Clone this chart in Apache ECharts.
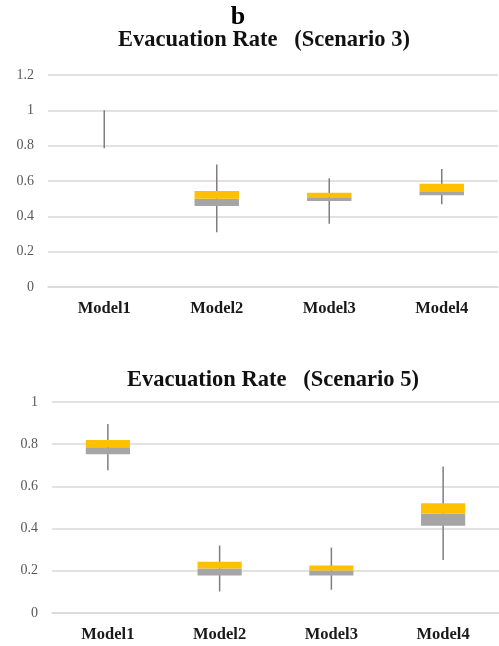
<!DOCTYPE html>
<html>
<head>
<meta charset="utf-8">
<script src="https://cdn.jsdelivr.net/npm/echarts@6/dist/echarts.min.js"></script>
<style>
html,body{margin:0;padding:0;background:#fff;}
#chart{width:499px;height:646px;}
</style>
</head>
<body>
<div id="chart"></div>
<script>
var categories = ['Model1', 'Model2', 'Model3', 'Model4'];
var yTicksS3 = [0, 0.2, 0.4, 0.6, 0.8, 1, 1.2];
var yTicksS5 = [0, 0.2, 0.4, 0.6, 0.8, 1];

// Scenario 3
var s3Min    = [0.785, 0.310, 0.358, 0.468];
var s3Q1     = [1.000, 0.458, 0.487, 0.519];
var s3Median = [1.000, 0.500, 0.508, 0.538];
var s3Q3     = [1.000, 0.543, 0.534, 0.585];
var s3Max    = [1.000, 0.694, 0.615, 0.668];

// Scenario 5
var s5Min    = [0.677, 0.102, 0.110, 0.251];
var s5Q1     = [0.752, 0.178, 0.178, 0.413];
var s5Median = [0.786, 0.211, 0.202, 0.471];
var s5Q3     = [0.820, 0.243, 0.225, 0.520];
var s5Max    = [0.896, 0.320, 0.310, 0.694];

function build(mn, q1, md, q3, mx) {
  return categories.map(function (c, i) { return [i, mn[i], q1[i], md[i], q3[i], mx[i]]; });
}

var GRAY = '#A5A5A5', ORANGE = '#FFC000', WHISKER = '#7F7F7F';

function renderBox(params, api) {
  var i = api.value(0);
  var pMin = api.coord([i, api.value(1)]);
  var pQ1 = api.coord([i, api.value(2)]);
  var pMd = api.coord([i, api.value(3)]);
  var pQ3 = api.coord([i, api.value(4)]);
  var pMax = api.coord([i, api.value(5)]);
  var bw = api.size([1, 0])[0] * 0.395;
  var x = pMd[0];
  return {
    type: 'group',
    children: [
      { type: 'line', shape: { x1: x, y1: pMax[1], x2: x, y2: pMin[1] },
        style: { stroke: WHISKER, lineWidth: 1.5 } },
      { type: 'rect', shape: { x: x - bw / 2, y: pMd[1], width: bw, height: pQ1[1] - pMd[1] },
        style: { fill: GRAY } },
      { type: 'rect', shape: { x: x - bw / 2, y: pQ3[1], width: bw, height: pMd[1] - pQ3[1] },
        style: { fill: ORANGE } }
    ]
  };
}

var serif = '"Liberation Serif", "DejaVu Serif", serif';

function xAxisCfg(gi) {
  return {
    type: 'category', gridIndex: gi, data: categories,
    axisLine: { show: true, lineStyle: { color: '#D9D9D9', width: 1.5 } },
    axisTick: { show: false },
    axisLabel: { fontFamily: serif, fontWeight: 'bold', fontSize: 16.5, color: '#1a1a1a', margin: 13 }
  };
}
function yAxisCfg(gi, ticks) {
  return {
    type: 'value', gridIndex: gi,
    min: ticks[0], max: ticks[ticks.length - 1], interval: ticks[1] - ticks[0],
    axisLine: { show: false }, axisTick: { show: false },
    splitLine: { lineStyle: { color: '#D9D9D9', width: 1.5 } },
    axisLabel: { fontFamily: serif, fontSize: 14, color: '#595959', margin: 14 }
  };
}

var chart = echarts.init(document.getElementById('chart'), null, { renderer: 'canvas' });
chart.setOption({
  backgroundColor: '#ffffff',
  animation: false,
  title: [
    { text: 'b', left: 233, top: -1, textAlign: 'center',
      textStyle: { fontFamily: serif, fontWeight: 'bold', fontSize: 26, color: '#000' } },
    { text: 'Evacuation Rate   (Scenario 3)', left: 259, top: 24, textAlign: 'center',
      textStyle: { fontFamily: serif, fontWeight: 'bold', fontSize: 22.5, color: '#111' } },
    { text: 'Evacuation Rate   (Scenario 5)', left: 268, top: 364, textAlign: 'center',
      textStyle: { fontFamily: serif, fontWeight: 'bold', fontSize: 22.5, color: '#111' } }
  ],
  grid: [
    { left: 48, top: 75, width: 450, height: 212 },
    { left: 52, top: 402, width: 456, height: 211 }
  ],
  xAxis: [xAxisCfg(0), xAxisCfg(1)],
  yAxis: [yAxisCfg(0, yTicksS3), yAxisCfg(1, yTicksS5)],
  series: [
    { type: 'custom', xAxisIndex: 0, yAxisIndex: 0, renderItem: renderBox,
      encode: { x: 0, y: [1, 2, 3, 4, 5] },
      data: build(s3Min, s3Q1, s3Median, s3Q3, s3Max) },
    { type: 'custom', xAxisIndex: 1, yAxisIndex: 1, renderItem: renderBox,
      encode: { x: 0, y: [1, 2, 3, 4, 5] },
      data: build(s5Min, s5Q1, s5Median, s5Q3, s5Max) }
  ]
});
</script>
</body>
</html>
